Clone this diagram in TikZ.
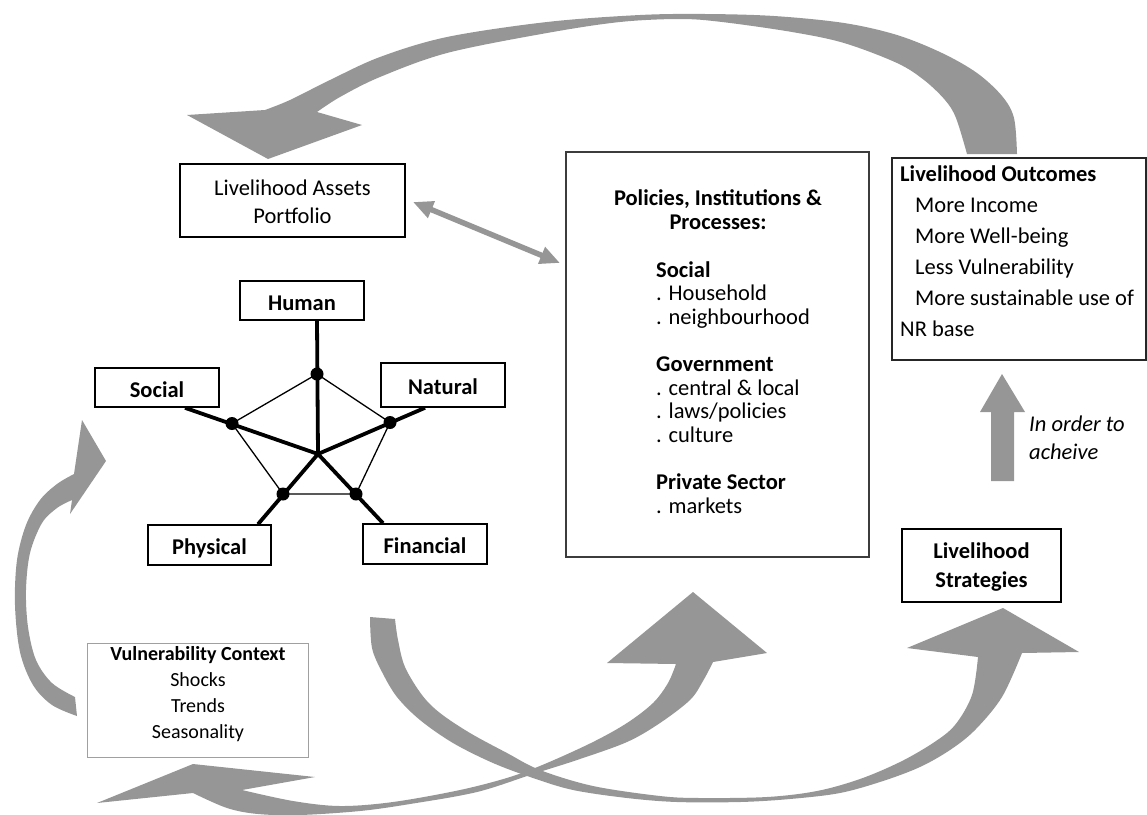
\documentclass[tikz,border=0pt]{standalone}
\usepackage{fontspec}
\setmainfont{Carlito}
\usetikzlibrary{arrows.meta}
\definecolor{arrowgray}{RGB}{150,150,150}
\definecolor{darkline}{RGB}{60,60,60}
\definecolor{softline}{RGB}{160,160,160}
% font size 22.5 with a chosen line pitch
\newcommand{\setfs}[1]{\fontsize{22.5}{#1}\selectfont}
\begin{document}
\begin{tikzpicture}[x=1pt,y=-1pt,
  box/.style={draw=black,line width=1.8pt,fill=white,inner sep=0pt},
  pbox/.style={draw=black,line width=1.6pt,fill=white,inner sep=0pt,
    font=\bfseries\setfs{27},text height=22pt,text depth=3pt},
  tb/.style={inner sep=0pt,anchor=base},
  fat/.style={fill=arrowgray},
  spoke/.style={line width=3.8pt},
  rim/.style={line width=1.3pt},
  dot/.style={circle,fill=black,inner sep=0pt,minimum size=13pt}]
\useasboundingbox (0,0) rectangle (1147,814);

% ---- broad curved arrows ----
% outcomes back to the assets portfolio
\fill[fat] plot[smooth,tension=0.55] coordinates {(1017,154) (1014,118) (1002,96) (977,73) (942,53) (897,35) (844,23) (774,16) (705,14) (640,15) (547,22) (447,37) (380,57) (330,80) (290,100) (265,110)}
  -- (187,115) -- (268,159) -- (362,125) -- (317,112)
  -- plot[smooth,tension=0.55] coordinates {(317,112) (340,97) (380,77) (447,53) (547,33) (620,22) (680,19) (722,22) (792,32) (844,43) (897,63) (924,80) (945,100) (956,118) (967,154)} -- cycle;

% vulnerability context up to the asset pentagon
\fill[fat] plot[smooth,tension=0.55] coordinates {(77,716) (52,705) (33,685) (20,652) (15,605) (17,560) (26,525) (40,500) (57,484) (74,474)}
  -- (82,420) -- (106,461) -- (70,514) -- (72,500)
  -- plot[smooth,tension=0.55] coordinates {(72,500) (57,508) (42,523) (30,553) (26,590) (28,627) (36,660) (52,683) (75,697)} -- cycle;

% assets down and round to the strategies
\fill[fat] plot[smooth,tension=0.55] coordinates {(370,617) (372,648) (382,672) (397,697) (420,720) (453,743) (493,763) (533,778) (573,790) (627,798) (677,802) (740,802) (790,799) (840,793) (883,781) (920,767) (950,750) (975,730) (1002,697) (1022,653)}
  -- (1079,652) -- (1003,608) -- (907,648) -- (978,657)
  -- plot[smooth,tension=0.55] coordinates {(978,657) (972,695) (955,725) (933,743) (900,762) (860,779) (817,791) (767,797) (700,798) (660,796) (593,786) (540,770) (507,753) (470,733) (440,713) (422,695) (405,667) (398,640) (395,619)} -- cycle;

% policies and vulnerability context, two heads
\fill[fat] (97,803) -- (193,764) -- (315,777) -- (242,790)
  -- plot[smooth,tension=0.55] coordinates {(242,790) (293,801) (340,806) (393,802) (460,790) (510,777) (547,763) (593,742) (627,723) (653,703) (668,683) (676,664)}
  -- (607,663) -- (693,592) -- (767,653) -- (713,662)
  -- plot[smooth,tension=0.55] coordinates {(713,662) (703,681) (690,700) (660,723) (627,742) (577,760) (533,774) (477,792) (410,804) (360,811) (300,815) (258,814) (227,808) (193,793)} -- cycle;

% strategies up to outcomes
\fill[fat] (991,481) -- (991,412) -- (980,412) -- (1002,374) -- (1025,412) -- (1014,412) -- (1014,481) -- cycle;

% ---- boxes ----
\node[box,minimum width=225pt,minimum height=73pt] (assets) at (292.5,200.5) {};
\node[tb] (assetsTxt) at (292.5,195) {\setfs{28}\begin{tabular}[t]{@{}c@{}}Livelihood Assets\\Portfolio\end{tabular}};

\node[box,draw=darkline,line width=1.5pt,minimum width=303pt,minimum height=405pt] (pip) at (717.5,354.5) {};
\node[tb] (pipTitle) at (718,205) {\bfseries\setfs{24}\begin{tabular}[t]{@{}c@{}}Policies, Institutions \&\\Processes:\end{tabular}};
\node[tb,anchor=base west] (pipList) at (656,277) {\setfs{23.6}\begin{tabular}[t]{@{}l@{}}
  \textbf{Social}\\. Household\\. neighbourhood\\ \\
  \textbf{Government}\\. central \& local\\. laws/policies\\. culture\\ \\
  \textbf{Private Sector}\\. markets\end{tabular}};

\node[box,draw=black!85,minimum width=254pt,minimum height=202pt] (outcomes) at (1019,259) {};
\node[tb,anchor=base west] (outTxt) at (900,181) {\setfs{31}\begin{tabular}[t]{@{}l@{}}
  \textbf{Livelihood Outcomes}\\
  \hspace*{15pt}More Income\\
  \hspace*{15pt}More Well-being\\
  \hspace*{15pt}Less Vulnerability\\
  \hspace*{15pt}More sustainable use of\\
  NR base\end{tabular}};

\node[tb,anchor=base west] (aim) at (1029,431) {\itshape\setfs{28}\begin{tabular}[t]{@{}l@{}}In order to\\acheive\end{tabular}};

\node[box,minimum width=159pt,minimum height=73pt] (strategies) at (981.5,565.5) {};
\node[tb] (stratTxt) at (981.5,558) {\bfseries\setfs{29}\begin{tabular}[t]{@{}c@{}}Livelihood\\Strategies\end{tabular}};

\node[box,draw=softline,line width=1pt,minimum width=221pt,minimum height=114pt] (vuln) at (197.5,700) {};
\node[tb] (vulnTxt) at (198,660) {\fontsize{20}{26}\selectfont\begin{tabular}[t]{@{}c@{}}
  \textbf{Vulnerability Context}\\Shocks\\Trends\\Seasonality\end{tabular}};

% two-way link between assets and policies
\coordinate (linkA) at (413,202);
\coordinate (linkB) at (560,263);
\draw[arrowgray,line width=5.5pt,{Triangle[length=20pt,width=17pt]}-{Triangle[length=20pt,width=17pt]}] (linkA) -- (linkB);

% ---- asset pentagon ----
\node[pbox,minimum width=124pt,minimum height=39pt] (human) at (302,300.5) {Human};
\node[pbox,minimum width=124pt,minimum height=39pt] (social) at (157,387.5) {Social};
\node[pbox,minimum width=124pt,minimum height=44pt] (natural) at (443,385) {Natural};
\node[pbox,minimum width=123pt,minimum height=40pt] (physical) at (209.5,545) {Physical};
\node[pbox,minimum width=124pt,minimum height=40pt] (financial) at (425,544) {Financial};

\coordinate (c) at (318,454);
\coordinate (eH) at (317,320.8);
\coordinate (eS) at (185,407.8);
\coordinate (eN) at (425,407.8);
\coordinate (eP) at (258,524.2);
\coordinate (eF) at (383,523.2);
\coordinate (dH) at (317,374);
\coordinate (dS) at (232,423.5);
\coordinate (dN) at (390,422.5);
\coordinate (dP) at (283,494);
\coordinate (dF) at (356,494);

\draw[rim] (dH) -- (dN) -- (dF) -- (dP) -- (dS) -- cycle;
\draw[spoke] (c) -- (eH);
\draw[spoke] (c) -- (eS);
\draw[spoke] (c) -- (eN);
\draw[spoke] (c) -- (eP);
\draw[spoke] (c) -- (eF);
\foreach \d in {dH,dS,dN,dP,dF} \node[dot] (\d-dot) at (\d) {};
\end{tikzpicture}
\end{document}
